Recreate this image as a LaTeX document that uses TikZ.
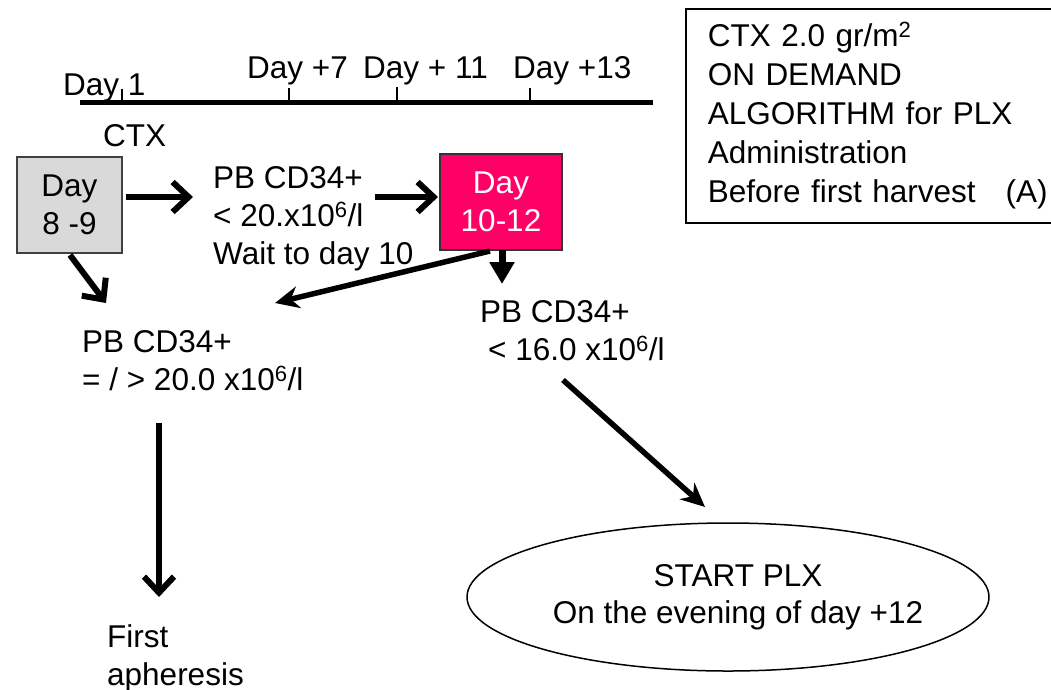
\documentclass[tikz,border=0pt]{standalone}
\usepackage{fontspec}
\setmainfont{Liberation Sans}
\usetikzlibrary{arrows.meta,shapes.geometric}
\definecolor{pinkbox}{RGB}{255,0,102}
\definecolor{graybox}{RGB}{217,217,217}
\newcommand\fst{\rule{0pt}{30pt}}
\begin{document}
\begin{tikzpicture}[x=1pt,y=-1pt,
  every node/.style={font=\fontsize{31.5}{38}\selectfont, inner sep=0pt},
  lbl/.style={anchor=base west},
  blk/.style={anchor=north west, align=left},
  barbarrow/.style={line width=6pt, -{Straight Barb[length=16pt,width=30pt]}},
  stealtharrow/.style={line width=5.5pt, -{Stealth[length=24pt,width=22pt]}},
  triarrow/.style={line width=7pt, -{Triangle[length=22pt,width=24pt]}},
  tick/.style={line width=1.5pt},
  daybox/.style={line width=1.5pt, minimum width=105pt, minimum height=96pt, align=center}
]
\useasboundingbox (0,0) rectangle (1051,689);

% timeline
\draw[line width=5pt] (80,102) -- (653,102);
\draw[tick] (122,102) -- (122,89);
\draw[tick] (289,102) -- (289,88);
\draw[tick] (397,102) -- (397,87);
\draw[tick] (530,102) -- (530,88);

\node[lbl] (d1) at (63,95) {Day 1};
\node[lbl] (d7) at (247,78) {Day +7};
\node[lbl] (d11) at (363,78) {Day + 11};
\node[lbl] (d13) at (513,78) {Day +13};
\node[lbl] (ctx) at (103,146) {CTX};

% boxes
\node[daybox, draw=black!75, fill=graybox] (g) at (69.5,205) {Day\\8 -9};
\node[daybox, minimum width=122pt, draw=black!80, fill=pinkbox, text=white] (p) at (501,202) {Day\\10-12};

% text blocks
\node[blk] (pb1) at (213,158) {\fst PB CD34+\\< 20.x10\textsuperscript{6}/l\\Wait to day 10};
\node[blk] (pb2) at (480,292) {\fst PB CD34+\\\hspace*{8pt}< 16.0 x10\textsuperscript{6}/l};
\node[blk] (pb3) at (82,322) {\fst PB CD34+\\= / > 20.0 x10\textsuperscript{6}/l};
\node[blk] (first) at (107,617) {\fst First\\apheresis};

% ellipse
\node[ellipse, draw, line width=1.5pt, minimum width=522pt, minimum height=148pt] (plx) at (728,597) {};
\node[align=center, font=\fontsize{31.5}{37}\selectfont] (plxt) at (738,597) {START PLX\\On the evening of day +12};

% info box
\node[draw, line width=1.5pt, anchor=north west, minimum height=214pt, text width=370pt,
      inner xsep=22pt, inner ysep=0pt, align=left, font=\fontsize{31.5}{39}\selectfont] (info) at (685,8)
  {CTX 2.0 gr/m\textsuperscript{2}\\ON DEMAND\\ALGORITHM for PLX\\Administration\\Before first harvest\hspace*{30pt}(A)};

% connector end points
\coordinate (a1s) at (126,197);  \coordinate (a1e) at (193,197);
\coordinate (a2s) at (375,197);  \coordinate (a2e) at (438,197);
\coordinate (a3s) at (502,250);  \coordinate (a3e) at (502,284);
\coordinate (a4s) at (490,251);  \coordinate (a4e) at (275,303);
\coordinate (a5s) at (70,255);   \coordinate (a5e) at (106,303);
\coordinate (a6s) at (159,423);  \coordinate (a6e) at (159,597);
\coordinate (a7s) at (563,380);  \coordinate (a7e) at (705,507);

\draw[barbarrow] (a1s) -- (a1e);
\draw[barbarrow] (a2s) -- (a2e);
\draw[triarrow] (a3s) -- (a3e);
\draw[stealtharrow] (a4s) -- (a4e);
\draw[barbarrow] (a5s) -- (a5e);
\draw[barbarrow] (a6s) -- (a6e);
\draw[stealtharrow] (a7s) -- (a7e);
\end{tikzpicture}
\end{document}
